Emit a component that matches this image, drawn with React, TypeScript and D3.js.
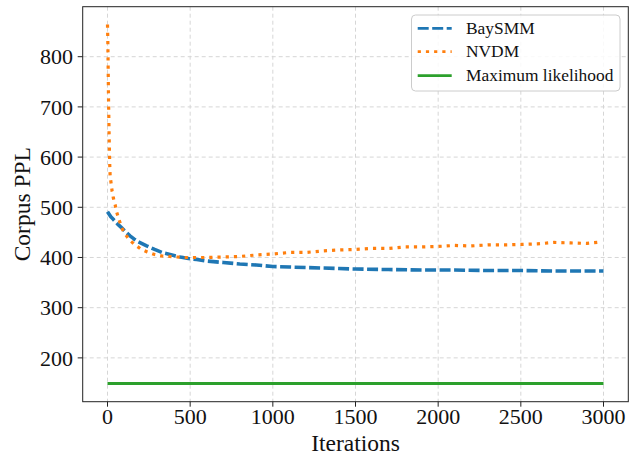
import React from "react";
import * as d3 from "d3";

const baysmmIter = [0, 10, 20, 35, 60, 86, 110, 136, 160, 187, 237, 285, 338, 390, 439, 490, 540, 600, 700, 800, 900, 1000, 1100, 1200, 1300, 1400, 1500, 1700, 1900, 2100, 2300, 2500, 2700, 2900, 3000];
const baysmmPPL = [491, 486, 481, 476, 467, 459, 451, 443, 437, 431, 423, 416, 409, 405, 401, 398, 396, 393, 390, 387, 385, 382, 381, 380, 379, 378, 377, 376, 375, 375, 374, 374, 373, 373, 373];

const nvdmIter = [0, 2, 4, 6, 8, 10, 13, 16, 21, 28, 35, 47, 55, 70, 86, 104, 130, 163, 201, 241, 285, 330, 374, 419, 463, 509, 556, 600, 700, 800, 900, 1000, 1100, 1200, 1300, 1400, 1500, 1600, 1700, 1800, 1900, 2000, 2100, 2200, 2300, 2400, 2500, 2600, 2700, 2800, 2900, 2990];
const nvdmPPL = [864, 830, 780, 720, 680, 640, 590, 562, 550, 532, 519, 504, 491, 475, 459, 448, 436, 426, 417, 411, 406, 403, 402, 401, 400, 400, 400, 400, 401, 402, 405, 407, 410, 410, 413, 415, 416, 418, 418, 421, 421, 422, 424, 423, 425, 425, 426, 427, 430, 429, 428, 431];

const mlIter = [0, 3000];
const mlPPL = [149, 149];

const xTicks = [0, 500, 1000, 1500, 2000, 2500, 3000];
const yTicks = [200, 300, 400, 500, 600, 700, 800];

const legendLabels = ["BaySMM", "NVDM", "Maximum likelihood"];
const colors = ["#1f77b4", "#ff7f0e", "#2ca02c"];
const dashes = ["11,3.5", "3.2,5", null];

const W = 637, H = 456;
const L = 82.7, R = 628.3, T = 6.7, B = 401.7;
const FONT = "'Liberation Serif', 'DejaVu Serif', serif";

export default function App() {
  const x = d3.scaleLinear().domain([-150, 3150]).range([L, R]);
  const y = d3.scaleLinear().domain([112.7, 899.6]).range([B, T]);
  const line = d3.line<[number, number]>().x(d => x(d[0])).y(d => y(d[1]));
  const series = [
    { it: baysmmIter, v: baysmmPPL, w: 3.6 },
    { it: nvdmIter, v: nvdmPPL, w: 3.2 },
    { it: mlIter, v: mlPPL, w: 2.8 },
  ];
  const legY = [28.3, 51.7, 75.7];
  return (
    <svg width={W} height={H} style={{ position: "absolute", left: 0, top: 0, background: "#fff" }} fontFamily={FONT}>
      <rect x={0} y={0} width={W} height={H} fill="#fff" />
      {xTicks.map(t => (
        <line key={"gx" + t} x1={x(t)} x2={x(t)} y1={T} y2={B} stroke="#d6d6d6" strokeWidth={1} strokeDasharray="4,3" />
      ))}
      {yTicks.map(t => (
        <line key={"gy" + t} x1={L} x2={R} y1={y(t)} y2={y(t)} stroke="#d6d6d6" strokeWidth={1} strokeDasharray="4,3" />
      ))}
      {series.map((s, i) => (
        <path key={"s" + i} d={line(s.it.map((it, j) => [it, s.v[j]] as [number, number])) || ""} fill="none"
          stroke={colors[i]} strokeWidth={s.w} strokeDasharray={dashes[i] || undefined} strokeLinecap="butt" strokeLinejoin="round" />
      ))}
      <rect x={L} y={T} width={R - L} height={B - T} fill="none" stroke="#222" strokeWidth={1} />
      {xTicks.map(t => (
        <g key={"tx" + t}>
          <line x1={x(t)} x2={x(t)} y1={B} y2={B + 5} stroke="#222" strokeWidth={1} />
          <text x={x(t)} y={424} textAnchor="middle" fontSize={22} fill="#111">{t}</text>
        </g>
      ))}
      {yTicks.map(t => (
        <g key={"ty" + t}>
          <line x1={L - 5} x2={L} y1={y(t)} y2={y(t)} stroke="#222" strokeWidth={1} />
          <text x={73} y={y(t)} dy="0.35em" textAnchor="end" fontSize={22} fill="#111">{t}</text>
        </g>
      ))}
      <text x={(L + R) / 2} y={451} textAnchor="middle" fontSize={23.5} fill="#111">Iterations</text>
      <text transform={`translate(30,${(T + B) / 2}) rotate(-90)`} textAnchor="middle" fontSize={23.5} fill="#111">Corpus PPL</text>
      <rect x={411.5} y={15} width={208.5} height={76} rx={4} fill="#fff" fillOpacity={0.85} stroke="#cccccc" strokeWidth={1} />
      {legendLabels.map((lab, i) => (
        <g key={"l" + i}>
          <line x1={417.7} x2={451.7} y1={legY[i]} y2={legY[i]} stroke={colors[i]} strokeWidth={2.8}
            strokeDasharray={dashes[i] || undefined} />
          <text x={466} y={legY[i]} dy="0.33em" fontSize={17.4} fill="#111">{lab}</text>
        </g>
      ))}
    </svg>
  );
}
